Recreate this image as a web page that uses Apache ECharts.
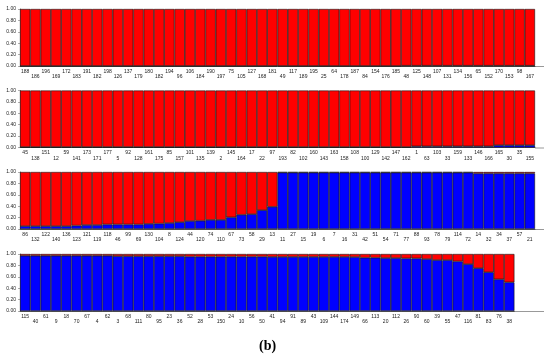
<!DOCTYPE html>
<html>
<head>
<meta charset="utf-8">
<script src="https://cdn.jsdelivr.net/npm/echarts@6/dist/echarts.min.js"></script>
<style>
  html, body { margin: 0; padding: 0; background: #fff; }
  #chart { width: 550px; height: 357px; }
</style>
</head>
<body>
<div id="chart"></div>
<script>
// sample ids per panel (top-row / bottom-row labels interleaved)
const labels1 = [188,186,196,169,172,183,191,182,198,126,137,179,180,182,194,96,106,184,190,197,75,105,127,168,181,49,117,189,195,25,64,178,187,84,154,176,185,48,125,148,107,131,134,156,65,152,170,153,98,167]
const labels2 = [45,138,151,12,59,141,173,171,177,5,92,128,161,175,85,157,101,135,139,2,145,164,17,22,97,193,82,102,160,143,163,158,108,100,129,142,147,162,1,63,103,33,159,133,146,166,165,30,35,155]
const labels3 = [86,132,122,140,136,123,121,119,118,46,99,69,130,104,8,124,44,120,74,110,67,73,58,29,13,11,27,15,19,6,7,16,31,42,51,54,71,77,88,93,78,79,114,72,14,32,34,37,57,21]
const labels4 = [115,40,61,9,18,70,67,4,62,3,68,111,80,95,23,36,52,28,53,150,24,10,56,50,41,94,91,89,43,109,144,174,149,66,113,20,112,26,90,60,39,55,47,116,81,83,76,38]

// membership in the blue cluster (red = the rest)
const blue1 = [0,0,0,0,0,0,0,0,0,0,0,0,0,0,0,0,0,0,0,0,0,0,0,0,0,0,0,0,0,0,0,0,0,0,0,0,0,0.005,0.005,0.005,0.005,0.005,0.005,0.005,0.005,0.005,0.005,0.005,0.005,0.005]
const blue2 = [0.008,0.008,0.008,0.008,0.008,0.008,0.008,0.008,0.008,0.008,0.008,0.008,0.008,0.008,0.008,0.008,0.008,0.008,0.008,0.008,0.008,0.008,0.008,0.008,0.008,0.008,0.008,0.008,0.008,0.008,0.008,0.008,0.008,0.008,0.008,0.008,0.008,0.008,0.02,0.02,0.02,0.02,0.02,0.02,0.02,0.02,0.04,0.04,0.04,0.04]
const blue3 = [0.05,0.05,0.05,0.05,0.05,0.06,0.07,0.07,0.08,0.08,0.08,0.08,0.09,0.095,0.105,0.12,0.14,0.145,0.16,0.16,0.205,0.25,0.26,0.33,0.39,0.99,0.99,0.99,0.99,0.99,0.99,0.99,0.99,0.99,0.99,0.99,0.99,0.99,0.99,0.99,0.99,0.99,0.99,0.99,0.975,0.975,0.975,0.975,0.975,0.975]
const blue4 = [0.97,0.97,0.97,0.97,0.97,0.97,0.97,0.97,0.97,0.962,0.962,0.962,0.962,0.962,0.962,0.962,0.955,0.955,0.955,0.955,0.955,0.955,0.955,0.955,0.95,0.95,0.95,0.95,0.95,0.95,0.95,0.95,0.947,0.935,0.935,0.929,0.929,0.923,0.923,0.911,0.893,0.893,0.87,0.822,0.751,0.68,0.556,0.503]

const yTicks = [0, 0.2, 0.4, 0.6, 0.8, 1]

const panels = [
    { labels: labels1, blue: blue1, top: 9 },
    { labels: labels2, blue: blue2, top: 90.5 },
    { labels: labels3, blue: blue3, top: 172 },
    { labels: labels4, blue: blue4, top: 254 }
]
const barW = 10.3
const plotH = 57

const chart = echarts.init(document.getElementById('chart'))

const grid = [], xAxis = [], yAxis = [], series = [], graphics = []
panels.forEach((p, i) => {
    const w = p.labels.length * barW
    grid.push({ left: 20, top: p.top, width: w, height: plotH })
    xAxis.push({
        type: 'category',
        gridIndex: i,
        data: p.labels.map(String),
        axisLine: { lineStyle: { color: '#555', width: 1 } },
        axisTick: { alignWithLabel: true, length: 2, lineStyle: { color: '#666', width: 0.6 } },
        axisLabel: {
            interval: 0,
            fontSize: 5,
            lineHeight: 5.5,
            margin: 2.5,
            color: '#222',
            fontFamily: 'Liberation Sans',
            formatter: (v, idx) => idx % 2 ? '\n' + v : v
        }
    })
    yAxis.push({
        type: 'value',
        gridIndex: i,
        min: 0, max: 1, interval: 0.2,
        splitLine: { show: false },
        axisLine: { show: true, lineStyle: { color: '#777', width: 1 } },
        axisTick: { show: true, length: 2, lineStyle: { color: '#777', width: 0.6 } },
        axisLabel: {
            fontSize: 5,
            color: '#222',
            margin: 4,
            fontFamily: 'Liberation Sans',
            formatter: v => yTicks.includes(Math.round(v * 10) / 10) ? v.toFixed(2) : ''
        }
    })
    series.push({
        type: 'bar', xAxisIndex: i, yAxisIndex: i, stack: 's' + i,
        data: p.blue, barCategoryGap: 0,
        itemStyle: { color: '#0000ff', borderColor: '#111', borderWidth: 0.6 },
        silent: true, animation: false
    })
    series.push({
        type: 'bar', xAxisIndex: i, yAxisIndex: i, stack: 's' + i,
        data: p.blue.map(b => +(1 - b).toFixed(3)), barCategoryGap: 0,
        itemStyle: { color: '#ff0000', borderColor: '#111', borderWidth: 0.6 },
        silent: true, animation: false
    })
    // baseline continues a little past the last bar
    graphics.push({
        type: 'line',
        shape: { x1: 20 + w, y1: p.top + plotH + 0.5, x2: 544, y2: p.top + plotH + 0.5 },
        style: { stroke: '#999', lineWidth: 1 }
    })
})

graphics.push({
    type: 'text',
    left: 259, top: 339,
    style: { text: '(b)', font: 'bold 14px "Liberation Serif"', fill: '#000' }
})

chart.setOption({
    animation: false,
    grid, xAxis, yAxis, series,
    graphic: { elements: graphics }
})
</script>
</body>
</html>
